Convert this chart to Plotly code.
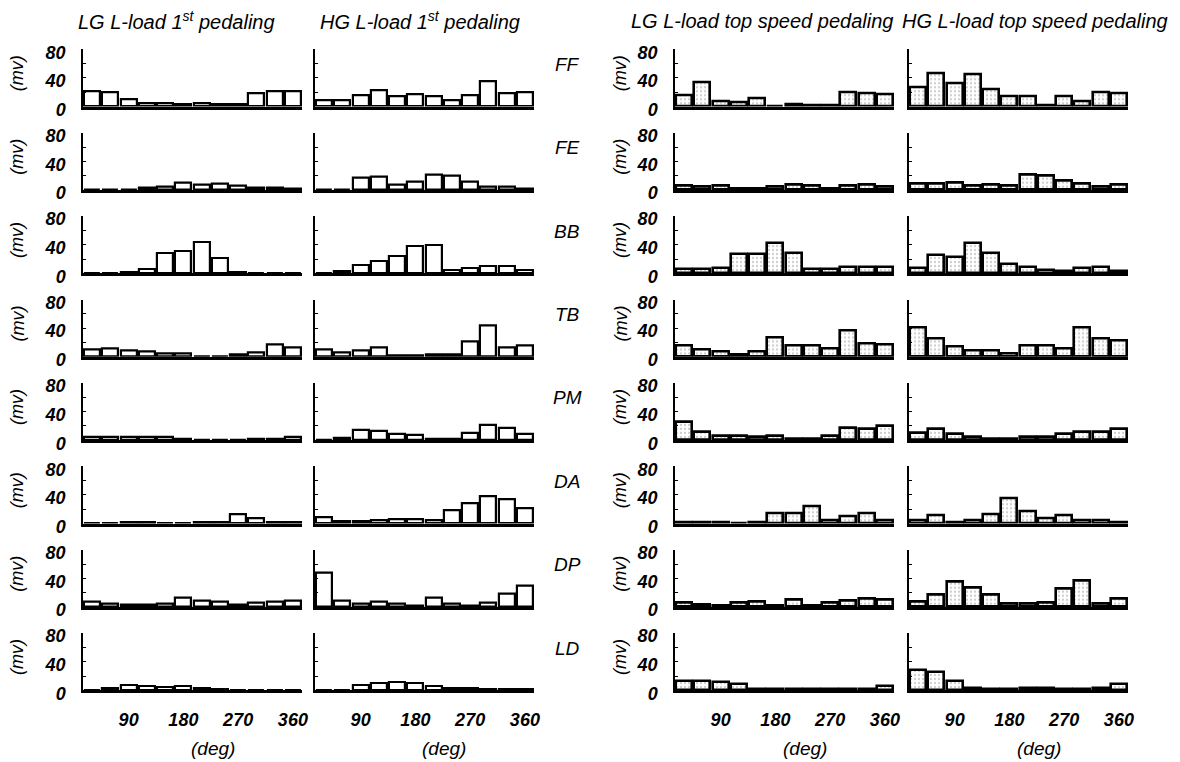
import plotly.graph_objects as go
from plotly.subplots import make_subplots

W, H = 1180, 762

angles = [30, 60, 90, 120, 150, 180, 210, 240, 270, 300, 330, 360]
muscles = ["FF", "FE", "BB", "TB", "PM", "DA", "DP", "LD"]
x_ticks = [90, 180, 270, 360]
y_ticks = [0, 40, 80]
y_minor = [20, 60]

# LG L-load 1st pedaling
lg_first = [
    [21, 20, 10.5, 5, 4.5, 3, 4, 3, 3.5, 19, 21, 21],
    [1, 1, 1, 3.5, 4.5, 10.5, 8, 9.5, 6.5, 3.5, 3.5, 2],
    [1, 1, 2.3, 6, 29, 31, 44, 22, 1.8, 1, 1, 1],
    [10.5, 11.5, 9.5, 7, 5, 5, 1, 1, 3, 6.5, 16.5, 13.5],
    [4.5, 4.5, 4, 4, 4, 1.8, 0.6, 0.5, 0.5, 1.2, 1.8, 5.3],
    [0.5, 0.5, 1.2, 1.2, 0.5, 0.5, 1.2, 1.8, 12.3, 7.6, 2.3, 2.3],
    [7.6, 4.7, 3.5, 3.5, 4.1, 12.3, 9.4, 7, 3.5, 6.4, 7, 9.4],
    [0.5, 2.9, 7, 5.8, 5.3, 5.8, 3.5, 1.2, 0.6, 0.5, 0.5, 0.5],
]
# HG L-load 1st pedaling
hg_first = [
    [9.4, 9.4, 16, 23, 14, 17.5, 14.6, 8.8, 16, 35, 18.7, 20.5],
    [0.5, 0.5, 17.5, 18.7, 7.6, 11, 22, 20.5, 11.7, 5.3, 5.3, 2.3],
    [0.5, 3.5, 12, 17.5, 24.5, 38.6, 39, 4, 7, 10.5, 10.5, 4.7],
    [10.5, 6.4, 9.4, 12.9, 1.8, 1.8, 2.9, 3.5, 21.6, 44, 12.9, 15.2],
    [0.6, 2.9, 14.6, 12.9, 9.4, 7.6, 2.3, 1.8, 10.5, 21.6, 17.5, 8.2],
    [8.2, 3.5, 2.9, 5.3, 6.4, 5.8, 4.7, 18.7, 28, 38.6, 34, 22],
    [48, 9.4, 4.7, 7, 4.1, 1.8, 13.5, 4.7, 1.2, 5.8, 18, 30],
    [0.5, 0.5, 7, 10, 11.7, 10.5, 5.8, 3.5, 2.9, 1.8, 1.8, 1.8],
]
# LG L-load top speed pedaling
lg_top = [
    [16, 34, 7, 6.4, 11.7, 0.6, 2.9, 2.3, 1.8, 19.3, 18.7, 17],
    [5.8, 4.7, 6.4, 1.2, 2.3, 4.7, 7, 6.4, 1.8, 6.4, 7, 4.1],
    [5.8, 6.4, 7, 27.5, 27.5, 42, 29, 5.8, 6.4, 8.8, 9.4, 8.2],
    [15.2, 10, 7, 2.9, 7, 27.5, 15.8, 15.8, 11, 37.4, 18, 17.5],
    [25, 11, 6.4, 6.4, 5.3, 6.4, 2.3, 1.2, 6.4, 17, 15.8, 19.3],
    [1.8, 2.3, 1.2, 0.6, 2.3, 14, 14, 24, 5.3, 10, 14.6, 4.7],
    [5.8, 2.9, 1.8, 5.8, 7, 1.8, 10.5, 2.3, 5.8, 8.2, 11.7, 10.5],
    [12.9, 12.3, 11.7, 8.2, 1.2, 1.2, 1.2, 1.2, 1.2, 1.2, 1.2, 6.4],
]
# HG L-load top speed pedaling
hg_top = [
    [27.5, 47, 33, 45, 24, 15, 15, 1.8, 15, 7.6, 20, 18],
    [9.4, 8.2, 10.5, 5.8, 7.6, 5.8, 21.6, 20.5, 12.3, 9.4, 5.3, 7],
    [7, 26, 23, 42.7, 28, 12.3, 9.4, 4.1, 3.5, 7, 9.4, 2.9],
    [41.5, 25, 14.6, 8.2, 8.8, 4.1, 15.2, 15.8, 11, 41, 25.7, 22.8],
    [10, 16.4, 8.2, 4.7, 1.8, 2.3, 4.1, 4.7, 9.4, 11.7, 11.7, 15.8],
    [4.7, 11.7, 1.2, 4.1, 12.9, 35.7, 17, 7.6, 11.7, 4.1, 4.1, 1.2],
    [7, 17, 35, 27.5, 17, 4.7, 4.7, 6.4, 25, 36.8, 5.3, 11],
    [28.7, 25, 12.9, 3.5, 2.3, 2.3, 3.5, 3.5, 2.3, 2.3, 3.5, 8.2],
]

columns = [lg_first, hg_first, lg_top, hg_top]
titles = [
    "LG L-load 1<sup>st</sup> pedaling",
    "HG L-load 1<sup>st</sup> pedaling",
    "LG L-load top speed pedaling",
    "HG L-load top speed pedaling",
]

FONT = "Liberation Sans, Arial, Helvetica, sans-serif"

# layout geometry (pixels)
col_left = [83, 315, 675, 909]
col_w = 219
row_top0, row_step, row_h = 49.3, 83.4, 57.3


def px(x):
    return x / W


def py(y):
    return 1 - y / H


fig = make_subplots(rows=8, cols=4)

for c, data in enumerate(columns):
    for r, vals in enumerate(data):
        marker = dict(color="white", line=dict(color="black", width=2.2))
        if c >= 2:
            marker = dict(
                color="white",
                line=dict(color="black", width=2.6),
                pattern=dict(shape=".", fgcolor="#9a9a9a", bgcolor="white",
                             size=4, solidity=0.25),
            )
        fig.add_trace(
            go.Bar(x=angles, y=vals, width=26, marker=marker,
                   showlegend=False, hoverinfo="x+y"),
            row=r + 1, col=c + 1,
        )
        top = row_top0 + row_step * r
        bottom = top + row_h
        left = col_left[c]
        fig.update_xaxes(
            domain=[px(left), px(left + col_w)],
            range=[15, 375], automargin=False,
            showline=True, linecolor="black", linewidth=3,
            showgrid=False, zeroline=False, ticks="",
            tickvals=x_ticks, ticktext=[str(t) for t in x_ticks],
            showticklabels=(r == 7),
            tickfont=dict(family=FONT, size=18, color="black",
                          style="italic", weight="bold"),
            ticklabelstandoff=11,
            row=r + 1, col=c + 1,
        )
        lab = c in (0, 2)
        fig.update_yaxes(
            domain=[py(bottom), py(top)],
            range=[0, 80], automargin=False,
            showline=True, linecolor="black", linewidth=1.5,
            showgrid=False, zeroline=False,
            ticks="inside", ticklen=3, tickwidth=1, tickcolor="black",
            tickvals=y_ticks, ticktext=[str(t) for t in y_ticks],
            minor=dict(tickvals=y_minor, ticks="inside", ticklen=3,
                       tickwidth=1, tickcolor="black", showgrid=False),
            showticklabels=lab,
            tickfont=dict(family=FONT, size=18, color="black",
                          style="italic", weight="bold"),
            ticklabelshift=3, ticklabelstandoff=12,
            row=r + 1, col=c + 1,
        )

annotations = []
title_x = [176, 420, 762, 1035]
for t, xc in zip(titles, title_x):
    annotations.append(dict(
        text=t, x=px(xc), y=py(21), xref="paper", yref="paper",
        xanchor="center", yanchor="middle", showarrow=False,
        font=dict(family=FONT, size=20, color="black", style="italic"),
    ))

for r, m in enumerate(muscles):
    top = row_top0 + row_step * r
    annotations.append(dict(
        text=m, x=px(567), y=py(top + 15), xref="paper", yref="paper",
        xanchor="center", yanchor="middle", showarrow=False,
        font=dict(family=FONT, size=19, color="black", style="italic"),
    ))
    for xc in (17, 620):
        annotations.append(dict(
            text="(mv)", x=px(xc), y=py(top + 24), xref="paper", yref="paper",
            xanchor="center", yanchor="middle", showarrow=False, textangle=-90,
            font=dict(family=FONT, size=18, color="black", style="italic"),
        ))

for c in range(4):
    xc = col_left[c] + col_w / 2 + 20
    annotations.append(dict(
        text="(deg)", x=px(xc), y=py(748), xref="paper", yref="paper",
        xanchor="center", yanchor="middle", showarrow=False,
        font=dict(family=FONT, size=19, color="black", style="italic"),
    ))

fig.update_layout(
    width=W, height=H, autosize=False,
    margin=dict(l=0, r=0, t=0, b=0, pad=0, autoexpand=False),
    paper_bgcolor="white", plot_bgcolor="white",
    bargap=0, annotations=annotations,
    font=dict(family=FONT, color="black"),
)

fig.write_html(
    "out.html",
    config={"responsive": False, "displayModeBar": False},
    post_script="document.body.style.margin='0px';document.body.style.padding='0px';",
)
